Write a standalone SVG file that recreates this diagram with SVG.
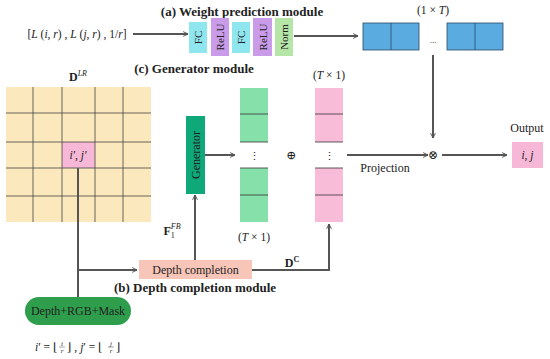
<svg xmlns="http://www.w3.org/2000/svg" width="550" height="359" viewBox="0 0 550 359">
<defs>
<marker id="ah" viewBox="0 0 10 10" refX="9" refY="5" markerWidth="6" markerHeight="6" markerUnits="userSpaceOnUse" orient="auto">
<path d="M1,1 L9,5 L1,9" fill="none" stroke="#555" stroke-width="1.6"/>
</marker>
<style>
.t{font-family:"Liberation Serif","DejaVu Serif",serif;fill:#222;}
.b{font-weight:bold;}
.i{font-style:italic;}
.c{stroke:#555;stroke-width:2;fill:none;}
.ca{stroke:#555;stroke-width:2;fill:none;marker-end:url(#ah);}
.grid{stroke:#444;stroke-width:0.8;}
.cell{stroke:#333;stroke-width:0.8;}
</style>
</defs>
<rect width="550" height="359" fill="#fff"/>

<g id="titles">
<text class="t b" x="242" y="16" font-size="13" text-anchor="middle">(a) Weight prediction module</text>
<text class="t b" x="194" y="73" font-size="13" text-anchor="middle">(c) Generator module</text>
<text class="t b" x="195" y="292" font-size="13" text-anchor="middle">(b) Depth completion module</text>
</g>

<g id="input">
<text class="t" x="77" y="38" font-size="11.5" text-anchor="middle">[<tspan class="i">L</tspan> (<tspan class="i">i</tspan>, <tspan class="i">r</tspan>) , <tspan class="i">L</tspan> (<tspan class="i">j</tspan>, <tspan class="i">r</tspan>) , 1/<tspan class="i">r</tspan>]</text>
</g>

<g id="weight-net" font-size="11">
<g id="fc1"><rect x="189" y="22" width="18" height="31" fill="#8fe6ee"/><text class="t" transform="translate(202,37.5) rotate(-90)" text-anchor="middle">FC</text></g>
<g id="relu1"><rect x="211" y="18" width="18" height="38" fill="#c99be9"/><text class="t" transform="translate(224,37) rotate(-90)" text-anchor="middle">ReLU</text></g>
<g id="fc2"><rect x="232" y="22" width="18" height="31" fill="#8fe6ee"/><text class="t" transform="translate(245,37.5) rotate(-90)" text-anchor="middle">FC</text></g>
<g id="relu2"><rect x="253" y="18" width="19" height="38" fill="#c99be9"/><text class="t" transform="translate(266.5,37) rotate(-90)" text-anchor="middle">ReLU</text></g>
<g id="norm"><rect x="275" y="18" width="18" height="38" fill="#b5e6a8"/><text class="t" transform="translate(288,37) rotate(-90)" text-anchor="middle">Norm</text></g>
</g>

<g id="weights">
<rect x="363" y="23" width="56" height="27" fill="#5aace0" stroke="#2a4a66" stroke-width="0.8"/>
<line x1="391" y1="23" x2="391" y2="50" stroke="#2a4a66" stroke-width="0.8"/>
<rect x="447" y="23" width="56" height="27" fill="#5aace0" stroke="#2a4a66" stroke-width="0.8"/>
<line x1="475" y1="23" x2="475" y2="50" stroke="#2a4a66" stroke-width="0.8"/>
<text class="t" x="433" y="43" font-size="9" text-anchor="middle">...</text>
<text class="t" x="433" y="14" font-size="11.5" text-anchor="middle">(1 × <tspan class="i">T</tspan>)</text>
</g>

<g id="lr-grid">
<rect x="6" y="87" width="145" height="135" fill="#fbe8bd"/>
<rect x="62" y="142" width="33" height="26" fill="#f6b8d6"/>
<g class="grid">
<line x1="33" y1="87" x2="33" y2="222"/><line x1="62" y1="87" x2="62" y2="222"/>
<line x1="95" y1="87" x2="95" y2="222"/><line x1="123" y1="87" x2="123" y2="222"/>
<line x1="6" y1="113" x2="151" y2="113"/><line x1="6" y1="142" x2="151" y2="142"/>
<line x1="6" y1="168" x2="151" y2="168"/><line x1="6" y1="196" x2="151" y2="196"/>
</g>
<text class="t i" x="78" y="159" font-size="11.5" text-anchor="middle">i′, j′</text>
<text class="t" x="78" y="81" font-size="12" text-anchor="middle"><tspan class="b">D</tspan><tspan class="i" font-size="8" dy="-5">LR</tspan></text>
</g>

<g id="generator">
<rect x="186" y="116" width="19" height="78" fill="#0fa878"/>
<text class="t" transform="translate(199.5,155) rotate(-90)" font-size="12" text-anchor="middle">Generator</text>
</g>

<g id="green-col">
<rect x="240" y="88" width="28" height="54" fill="#86e0a9"/>
<rect x="240" y="168" width="28" height="54" fill="#86e0a9"/>
<line class="cell" x1="240" y1="114" x2="268" y2="114"/>
<line class="cell" x1="240" y1="142" x2="268" y2="142"/>
<line class="cell" x1="240" y1="168" x2="268" y2="168"/>
<line class="cell" x1="240" y1="195" x2="268" y2="195"/>
<text class="t" x="254" y="160" font-size="11" text-anchor="middle" fill="#666">⋮</text>
<text class="t" x="254" y="241" font-size="11.5" text-anchor="middle">(<tspan class="i">T</tspan> × 1)</text>
</g>

<g id="oplus"><text class="t" x="291" y="159" font-size="12" text-anchor="middle" fill="#444">⊕</text></g>

<g id="pink-col">
<rect x="315" y="88" width="28" height="54" fill="#f8bcd9"/>
<rect x="315" y="168" width="28" height="54" fill="#f8bcd9"/>
<line class="cell" x1="315" y1="114" x2="343" y2="114"/>
<line class="cell" x1="315" y1="142" x2="343" y2="142"/>
<line class="cell" x1="315" y1="168" x2="343" y2="168"/>
<line class="cell" x1="315" y1="195" x2="343" y2="195"/>
<text class="t" x="329" y="160" font-size="11" text-anchor="middle" fill="#666">⋮</text>
<text class="t" x="329" y="79" font-size="11.5" text-anchor="middle">(<tspan class="i">T</tspan> × 1)</text>
</g>

<g id="otimes"><text class="t" x="433" y="159" font-size="12" text-anchor="middle" fill="#444">⊗</text></g>

<g id="output">
<rect x="512" y="142" width="31" height="26" fill="#f6b8d6"/>
<text class="t i" x="527.5" y="159" font-size="11.5" text-anchor="middle">i, j</text>
<text class="t" x="527" y="132" font-size="12" text-anchor="middle">Output</text>
</g>

<g id="depth-completion">
<rect x="139" y="260" width="113" height="19" fill="#f8c6b8"/>
<text class="t" x="195.5" y="274" font-size="12" text-anchor="middle">Depth completion</text>
</g>

<g id="input-data">
<rect x="25" y="297" width="106" height="28" rx="14" fill="#2e9e4c"/>
<text class="t" x="78" y="315" font-size="12" text-anchor="middle">Depth+RGB+Mask</text>
</g>

<g id="formula" fill="#444">
<text class="t" x="35" y="351" font-size="11.5"><tspan class="i">i</tspan>′ = ⌊</text>
<text class="t i" x="62" y="346" font-size="7" text-anchor="middle">i</text>
<line x1="59" y1="347" x2="65" y2="347" stroke="#444" stroke-width="0.5"/>
<text class="t i" x="62" y="353" font-size="7" text-anchor="middle">r</text>
<text class="t" x="67" y="351" font-size="11.5">⌋ , <tspan class="i">j</tspan>′ = ⌊</text>
<text class="t i" x="111" y="346" font-size="7" text-anchor="middle">j</text>
<line x1="108" y1="347" x2="114" y2="347" stroke="#444" stroke-width="0.5"/>
<text class="t i" x="111" y="353" font-size="7" text-anchor="middle">r</text>
<text class="t" x="116" y="351" font-size="11.5">⌋</text>
</g>

<g id="connectors">
<line class="ca" x1="133" y1="34" x2="188" y2="34"/>
<line class="ca" x1="294" y1="36" x2="358" y2="36"/>
<line class="ca" x1="433" y1="55" x2="433" y2="138"/>
<line class="ca" x1="442" y1="155" x2="507" y2="155"/>
<line class="ca" x1="347" y1="155" x2="428" y2="155"/>
<line class="ca" x1="205" y1="155" x2="235" y2="155"/>
<line class="c" x1="78" y1="168" x2="78" y2="297"/>
<line class="ca" x1="78" y1="270" x2="137" y2="270"/>
<line class="ca" x1="195" y1="260" x2="195" y2="195"/>
<polyline class="ca" points="252,270 329,270 329,224"/>
</g>

<g id="labels">
<text class="t" x="385" y="172" font-size="12" text-anchor="middle">Projection</text>
<text class="t" x="292" y="267" font-size="12" text-anchor="middle"><tspan class="b">D</tspan><tspan class="b" font-size="8" dy="-5">C</tspan></text>
<text class="t" x="172" y="235" font-size="12" text-anchor="middle"><tspan class="b">F</tspan><tspan font-size="8" dy="3">1</tspan><tspan class="i" font-size="8" dy="-9" dx="-4">FB</tspan></text>
</g>
</svg>
